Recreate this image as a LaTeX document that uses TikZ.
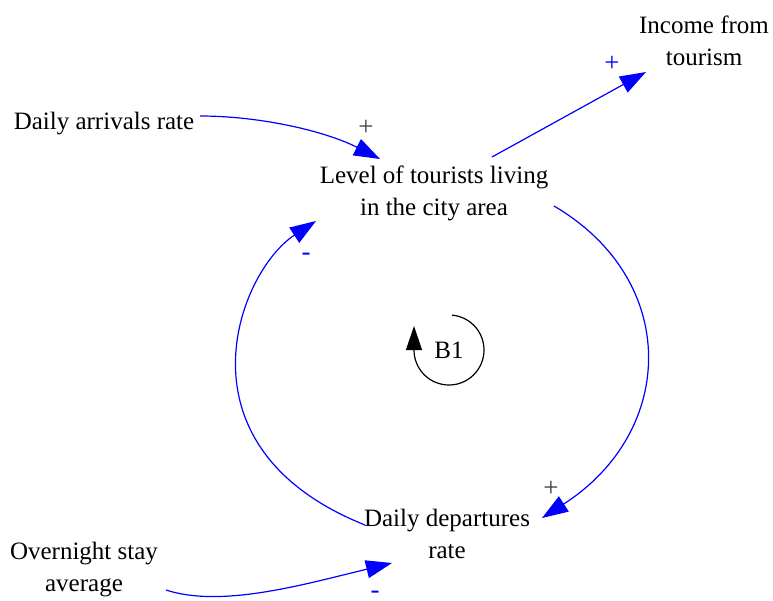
\documentclass[tikz,border=0pt]{standalone}
\usepackage{fontspec}
\setmainfont{Liberation Serif}
\usetikzlibrary{arrows.meta,calc}

\begin{document}
\begin{tikzpicture}
      [x = 1pt, y = 1pt,
      var/.style = {
         align = center,
         inner sep = 2pt,
         font = \fontsize{25}{32}\selectfont
      },
      link/.style = {
         draw = blue,
         line width = 1.2pt,
         -{Triangle[length = 26pt, width = 18pt]}
      },
      sign/.style = {
         inner sep = 0pt,
         font = \fontsize{27}{27}\selectfont
      },
      loop/.style = {
         draw,
         line width = 1.2pt,
         -{Triangle[length = 24pt, width = 16pt]}
      }]

      \useasboundingbox (0, 0) rectangle (773, -601);

      \node[var] (arr) at (104, -124) {Daily arrivals rate};
      \node[var] (inc) at (704, -41) {Income from\\tourism};
      \node[var] (lvl) at (434, -193) {Level of tourists living\\in the city area};
      \node[var] (dep) at (447, -534) {Daily departures\\rate};
      \node[var] (ovn) at (84, -570) {Overnight stay\\average};
      \node[var] (b1) at (449, -350) {B1};

      \draw[link] ($(arr) + (96, 8)$) .. controls +(60, 0) and +(-55, 28) .. ($(lvl) + (-54, 34)$);
      \draw[link] ($(lvl) + (58, 36)$) -- ($(inc) + (-58, -31)$);
      \draw[link] ($(lvl) + (120, -13)$) .. controls +(126, -74) and +(135, 87) .. ($(dep) + (95, 16)$);
      \draw[link] ($(dep) + (-82, 9)$) .. controls +(-195, 78) and +(-78, -51) .. ($(lvl) + (-118, -28)$);
      \draw[link] ($(ovn) + (82, -20)$) .. controls +(55, -18) and +(-90, -22) .. ($(dep) + (-55, -29)$);

      \draw[loop] (b1) ++(85:35) arc[start angle = 85, end angle = -180, radius = 35] -- ++(0, 24);

      \node[sign, text = black!75] (p1) at (366, -128) {+};
      \node[sign, text = blue] (p2) at (612, -64) {+};
      \node[sign, text = blue] (m1) at (306, -257) {-};
      \node[sign, text = black!75] (p3) at (551, -489) {+};
      \node[sign, text = blue] (m2) at (375, -595) {-};

   \end{tikzpicture}
\end{document}
